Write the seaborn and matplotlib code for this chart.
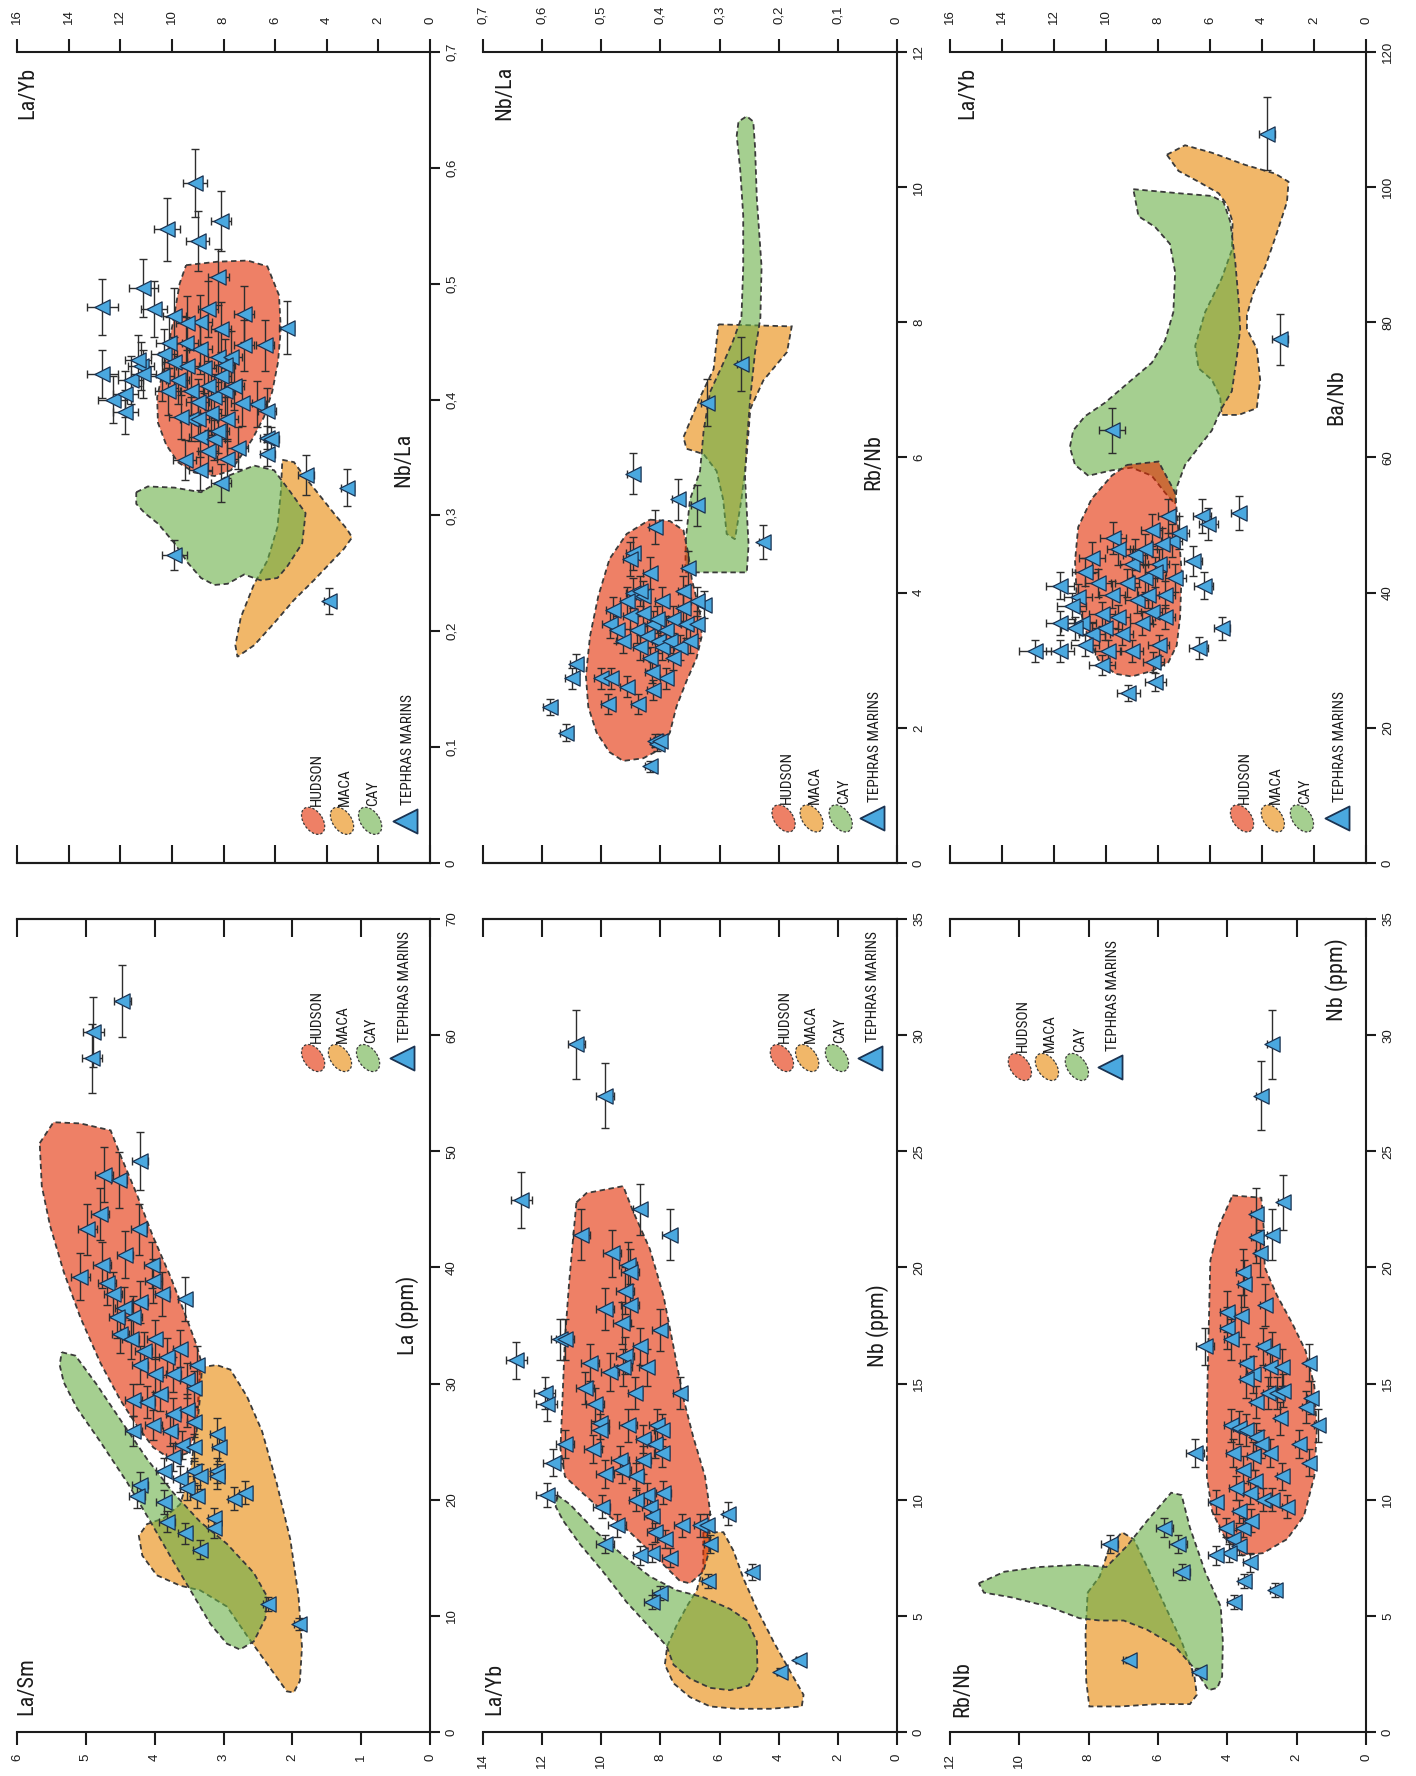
import numpy as np
import matplotlib
matplotlib.use("Agg")
import matplotlib.pyplot as plt
import seaborn as sns
from matplotlib import font_manager
from matplotlib.patches import Polygon
from matplotlib.path import Path

# ---------------------------------------------------------------------------
# Panel A : La/Yb versus Nb/La
# ---------------------------------------------------------------------------
layb_a = [9.1, 8.1, 10.2, 9.0, 8.2, 12.7, 11.1, 10.7, 12.7, 12.3,
          11.8, 11.8, 11.6, 11.2, 11.3, 11.1, 9.9, 8.9, 7.2, 7.2,
          6.4, 5.55, 6.7, 6.3, 6.3, 6.15, 6.3, 4.8, 3.2, 3.9,
          9.9, 8.1, 8.9, 9.5, 7.45, 7.85, 8.6, 7.3, 10.3, 10.1,
          9.9, 10.4, 10.15, 9.77, 9.45, 9.4, 9.25, 9.0, 8.9, 8.75,
          8.6, 8.5, 8.35, 8.2, 8.1, 7.95, 7.85, 7.7, 7.6, 9.25,
          8.9, 8.35, 8.6, 9.4, 9.65, 8.1, 9.0, 8.2, 7.95]
nbla_a = [0.587, 0.554, 0.547, 0.537, 0.506, 0.480, 0.496, 0.478, 0.422, 0.400,
          0.405, 0.389, 0.417, 0.429, 0.434, 0.422, 0.472, 0.467, 0.474, 0.447,
          0.447, 0.462, 0.396, 0.390, 0.367, 0.366, 0.353, 0.335, 0.324, 0.226,
          0.266, 0.328, 0.339, 0.348, 0.358, 0.349, 0.356, 0.397, 0.439, 0.449,
          0.432, 0.420, 0.407, 0.417, 0.449, 0.429, 0.407, 0.398, 0.444, 0.427,
          0.412, 0.388, 0.402, 0.437, 0.420, 0.407, 0.383, 0.437, 0.412, 0.383,
          0.368, 0.366, 0.478, 0.466, 0.385, 0.461, 0.383, 0.373, 0.430]
layb_a_err = [0.45, 0.40, 0.50, 0.45, 0.40, 0.60, 0.55, 0.50, 0.60, 0.55,
              0.50, 0.50, 0.50, 0.50, 0.50, 0.50, 0.45, 0.45, 0.40, 0.40,
              0.35, 0.30, 0.35, 0.35, 0.30, 0.30, 0.30, 0.30, 0.25, 0.20,
              0.50, 0.40, 0.45, 0.45, 0.40, 0.40, 0.40, 0.40, 0.50, 0.50,
              0.50, 0.50, 0.50, 0.45, 0.45, 0.45, 0.45, 0.45, 0.45, 0.45,
              0.40, 0.40, 0.40, 0.40, 0.40, 0.40, 0.40, 0.40, 0.40, 0.45,
              0.45, 0.40, 0.40, 0.45, 0.45, 0.40, 0.45, 0.40, 0.40]
nbla_a_err = [0.029, 0.026, 0.027, 0.026, 0.024, 0.024, 0.025, 0.024, 0.021, 0.020,
              0.020, 0.019, 0.021, 0.021, 0.022, 0.021, 0.024, 0.023, 0.024, 0.022,
              0.022, 0.023, 0.020, 0.020, 0.010, 0.010, 0.010, 0.017, 0.016, 0.011,
              0.013, 0.016, 0.017, 0.017, 0.018, 0.017, 0.018, 0.020, 0.022, 0.022,
              0.022, 0.021, 0.020, 0.021, 0.022, 0.021, 0.020, 0.020, 0.022, 0.021,
              0.021, 0.019, 0.020, 0.022, 0.021, 0.020, 0.019, 0.022, 0.021, 0.019,
              0.018, 0.018, 0.024, 0.023, 0.019, 0.023, 0.019, 0.019, 0.022]
# field outlines as (La/Yb, Nb/La)
a_hudson = [(9.45, 0.516), (8.23, 0.519), (7.07, 0.520), (6.30, 0.515), (5.85, 0.490),
            (5.78, 0.461), (5.89, 0.432), (6.11, 0.407), (6.43, 0.385), (6.88, 0.366),
            (7.33, 0.351), (7.71, 0.339), (8.35, 0.334), (9.13, 0.337), (9.77, 0.346),
            (10.22, 0.361), (10.54, 0.380), (10.57, 0.402), (10.28, 0.432), (9.96, 0.466),
            (9.70, 0.500)]
a_maca = [(5.72, 0.348), (5.27, 0.346), (4.88, 0.334), (4.37, 0.320), (3.73, 0.302),
          (3.21, 0.288), (3.02, 0.281), (3.34, 0.271), (3.86, 0.259), (4.50, 0.244),
          (5.27, 0.227), (6.04, 0.207), (6.81, 0.188), (7.46, 0.178), (7.54, 0.188),
          (7.33, 0.212), (6.81, 0.241), (6.30, 0.261), (5.91, 0.290), (5.78, 0.320)]
a_cay = [(11.38, 0.320), (10.93, 0.325), (9.90, 0.324), (8.87, 0.320), (7.84, 0.334),
         (6.81, 0.343), (6.04, 0.339), (5.40, 0.320), (4.82, 0.302), (4.95, 0.276),
         (5.53, 0.256), (5.91, 0.246), (6.56, 0.244), (7.20, 0.249), (7.84, 0.241),
         (8.35, 0.240), (8.87, 0.246), (9.38, 0.259), (9.90, 0.276), (10.54, 0.293),
         (11.05, 0.302), (11.38, 0.310)]

# ---------------------------------------------------------------------------
# Panel B : Nb/La versus Rb/Nb
# ---------------------------------------------------------------------------
nbla_b = [0.587, 0.559, 0.542, 0.550, 0.418, 0.409, 0.406, 0.401, 0.446, 0.370,
          0.339, 0.409, 0.446, 0.452, 0.353, 0.226, 0.322, 0.263, 0.488, 0.438,
          0.500, 0.483, 0.457, 0.412, 0.390, 0.415, 0.486, 0.474, 0.463, 0.452,
          0.446, 0.440, 0.435, 0.429, 0.429, 0.423, 0.418, 0.412, 0.406, 0.404,
          0.398, 0.390, 0.384, 0.378, 0.367, 0.361, 0.356, 0.350, 0.339, 0.327,
          0.361, 0.418, 0.435, 0.480, 0.457, 0.398, 0.378, 0.339]
rbnb_b = [2.31, 1.93, 2.94, 2.73, 1.43, 1.81, 1.76, 1.81, 5.76, 5.38,
          5.29, 4.97, 4.58, 4.50, 4.37, 4.75, 6.81, 7.39, 2.35, 2.35,
          2.73, 2.73, 2.61, 2.56, 2.73, 2.82, 3.53, 3.45, 3.28, 3.66,
          3.99, 3.45, 3.19, 3.95, 3.70, 3.36, 3.03, 3.53, 3.61, 3.28,
          3.19, 3.45, 3.28, 3.61, 3.19, 3.78, 3.53, 3.28, 3.53, 3.82,
          4.03, 4.29, 4.03, 3.74, 3.87, 3.87, 3.03, 3.87]
nbla_b_err = [0.012, 0.011, 0.011, 0.011, 0.008, 0.009, 0.009, 0.008, 0.010, 0.010,
              0.009, 0.010, 0.012, 0.012, 0.010, 0.008, 0.009, 0.008, 0.012, 0.012,
              0.012, 0.012, 0.012, 0.011, 0.011, 0.011, 0.012, 0.012, 0.012, 0.012,
              0.012, 0.012, 0.011, 0.012, 0.012, 0.011, 0.011, 0.011, 0.011, 0.011,
              0.011, 0.011, 0.010, 0.010, 0.010, 0.010, 0.010, 0.010, 0.010, 0.009,
              0.010, 0.011, 0.012, 0.012, 0.012, 0.011, 0.010, 0.009]
rbnb_b_err = [0.12, 0.12, 0.15, 0.15, 0.08, 0.10, 0.10, 0.10, 0.30, 0.30,
              0.30, 0.25, 0.25, 0.25, 0.25, 0.25, 0.35, 0.40, 0.15, 0.15,
              0.15, 0.15, 0.15, 0.15, 0.15, 0.15, 0.20, 0.20, 0.18, 0.20,
              0.22, 0.20, 0.18, 0.22, 0.20, 0.18, 0.17, 0.20, 0.20, 0.18,
              0.18, 0.20, 0.18, 0.20, 0.18, 0.20, 0.20, 0.18, 0.20, 0.20,
              0.22, 0.24, 0.22, 0.20, 0.21, 0.21, 0.17, 0.21]
# field outlines as (Nb/La, Rb/Nb)
b_hudson = [(0.418, 5.08), (0.384, 5.06), (0.361, 4.92), (0.353, 4.58), (0.347, 4.20),
            (0.333, 3.70), (0.330, 3.36), (0.339, 3.03), (0.356, 2.69), (0.373, 2.31),
            (0.384, 1.93), (0.401, 1.68), (0.429, 1.55), (0.463, 1.51), (0.486, 1.64),
            (0.508, 1.93), (0.522, 2.31), (0.526, 2.77), (0.519, 3.36), (0.505, 3.95),
            (0.486, 4.50), (0.457, 4.87)]
b_maca = [(0.302, 7.97), (0.178, 7.94), (0.186, 7.56), (0.226, 7.14), (0.248, 6.72),
          (0.254, 6.05), (0.263, 5.38), (0.274, 4.79), (0.288, 4.87), (0.294, 5.38),
          (0.305, 5.80), (0.327, 6.05), (0.356, 6.13), (0.361, 6.30), (0.333, 6.89),
          (0.310, 7.31), (0.305, 7.73)]
b_cay = [(0.358, 4.30), (0.254, 4.30), (0.251, 4.71), (0.254, 5.21), (0.257, 5.71),
         (0.254, 6.22), (0.248, 6.89), (0.240, 7.56), (0.231, 8.07), (0.229, 8.82),
         (0.237, 9.83), (0.240, 10.59), (0.243, 10.97), (0.254, 11.05), (0.268, 10.97),
         (0.271, 10.76), (0.265, 10.25), (0.260, 9.58), (0.260, 8.82), (0.263, 8.07),
         (0.277, 7.73), (0.294, 7.39), (0.316, 6.97), (0.327, 6.39), (0.333, 5.80),
         (0.350, 5.38), (0.357, 4.79)]

# ---------------------------------------------------------------------------
# Panel C : La/Yb versus Ba/Nb
# ---------------------------------------------------------------------------
layb_c = [3.81, 3.30, 9.78, 4.90, 6.32, 6.06, 6.64, 6.25, 5.55, 6.44,
          12.73, 11.77, 11.77, 9.14, 8.11, 8.18, 11.77, 11.07, 10.81, 9.72,
          8.24, 7.60, 7.47, 7.86, 7.98, 7.34, 7.73, 8.24, 7.98, 9.01,
          9.91, 10.17, 11.32, 10.94, 10.55, 10.17, 9.78, 9.52, 9.20, 9.01,
          8.82, 8.63, 8.50, 8.37, 9.40, 10.30, 10.55, 8.88, 9.52, 8.50,
          8.11, 10.04, 11.19, 10.81, 7.73, 7.21]
banb_c = [107.9, 77.5, 64.0, 51.8, 51.4, 50.2, 44.7, 41.0, 34.7, 31.8,
          31.4, 31.4, 41.0, 25.1, 26.8, 29.7, 35.5, 39.3, 43.1, 48.1,
          49.3, 51.4, 47.7, 47.2, 44.3, 42.2, 39.7, 37.2, 32.2, 31.4,
          31.4, 29.3, 38.0, 35.5, 33.9, 36.8, 39.7, 36.4, 41.4, 44.3,
          38.9, 35.5, 42.2, 39.7, 33.9, 41.4, 45.2, 45.6, 46.4, 46.4,
          43.1, 34.7, 34.7, 32.2, 36.4, 48.9]
layb_c_err = [0.30, 0.30, 0.50, 0.30, 0.35, 0.35, 0.35, 0.35, 0.30, 0.35,
              0.60, 0.55, 0.55, 0.45, 0.40, 0.40, 0.55, 0.55, 0.50, 0.50,
              0.40, 0.40, 0.40, 0.40, 0.40, 0.40, 0.40, 0.40, 0.40, 0.45,
              0.50, 0.50, 0.55, 0.55, 0.50, 0.50, 0.50, 0.45, 0.45, 0.45,
              0.45, 0.45, 0.45, 0.40, 0.45, 0.50, 0.50, 0.45, 0.45, 0.45,
              0.40, 0.50, 0.55, 0.55, 0.40, 0.40]
banb_c_err = [5.4, 3.8, 3.3, 2.5, 2.5, 2.4, 2.2, 2.0, 1.7, 1.6,
              1.6, 1.6, 2.0, 1.2, 1.3, 1.5, 1.8, 2.0, 2.1, 2.4,
              2.4, 2.5, 2.4, 2.3, 2.2, 2.1, 2.0, 1.9, 1.6, 1.6,
              1.6, 1.5, 1.9, 1.8, 1.7, 1.8, 2.0, 1.8, 2.1, 2.2,
              1.9, 1.8, 2.1, 2.0, 1.7, 2.1, 2.3, 2.3, 2.3, 2.3,
              2.2, 1.7, 1.7, 1.6, 1.8, 2.4]
# field outlines as (La/Yb, Ba/Nb)
c_hudson = [(9.20, 58.9), (7.98, 59.4), (7.34, 54.8), (7.21, 48.9), (7.09, 43.1),
            (7.15, 36.4), (7.28, 32.2), (7.60, 29.7), (8.24, 28.4), (9.01, 27.6),
            (9.65, 28.0), (10.30, 30.1), (10.81, 34.7), (11.13, 39.7), (11.19, 44.7),
            (11.07, 49.7), (10.55, 53.9), (9.78, 57.3)]
c_maca = [(7.66, 104.8), (6.96, 106.2), (5.93, 105.1), (4.65, 103.3), (3.49, 102.0),
          (2.98, 100.8), (3.04, 97.8), (3.43, 93.2), (3.88, 88.2), (4.33, 84.4),
          (4.58, 81.1), (4.58, 79.0), (4.20, 76.1), (4.07, 71.5), (4.20, 67.3),
          (4.90, 66.3), (5.55, 66.3), (5.61, 69.0), (5.93, 71.5), (6.44, 73.2),
          (6.57, 76.5), (6.19, 81.5), (5.55, 86.5), (5.16, 90.7), (5.13, 94.9),
          (5.35, 97.4), (5.67, 99.1), (6.44, 100.8), (7.21, 102.4)]
c_cay = [(8.95, 99.7), (8.37, 99.5), (7.21, 99.1), (5.93, 98.7), (5.48, 97.8),
         (5.22, 94.9), (5.03, 89.0), (4.90, 83.2), (4.84, 79.0), (4.97, 74.8),
         (5.16, 69.8), (5.55, 67.3), (5.93, 64.0), (6.44, 61.5), (6.96, 58.9),
         (7.28, 55.6), (7.34, 53.1), (7.73, 54.8), (8.24, 57.3), (9.01, 58.5),
         (9.78, 58.1), (10.68, 57.3), (11.19, 58.9), (11.39, 61.5), (11.26, 64.0),
         (10.81, 66.1), (10.04, 68.1), (9.01, 71.5), (8.24, 74.0), (7.73, 77.3),
         (7.41, 81.5), (7.34, 87.4), (7.54, 91.6), (8.11, 94.1), (8.75, 95.7)]

# ---------------------------------------------------------------------------
# Panel D : La/Sm versus La (ppm)
# ---------------------------------------------------------------------------
lasm_d = [4.91, 4.89, 4.47, 4.21, 4.74, 4.52, 4.79, 4.98, 4.23, 5.08,
          4.77, 4.43, 4.04, 4.02, 3.89, 3.56, 4.69, 4.60, 4.45, 4.31,
          4.55, 4.21, 4.50, 4.35, 4.16, 4.00, 3.82, 3.63, 3.39, 4.21,
          4.00, 3.73, 3.53, 3.43, 4.31, 4.11, 3.92, 3.73, 3.53, 3.43,
          4.31, 4.02, 3.77, 3.60, 3.43, 3.73, 3.87, 3.63, 3.43, 3.34,
          3.53, 3.39, 3.10, 3.07, 3.10, 3.10, 2.85, 2.69, 4.21, 4.26,
          3.87, 3.82, 3.56, 3.34, 3.14, 3.14, 2.35, 1.91]
la_d = [58.0, 60.3, 62.9, 49.2, 48.0, 47.5, 44.6, 43.3, 43.3, 39.2,
        40.2, 41.1, 40.2, 38.8, 37.7, 37.3, 38.7, 37.7, 36.5, 35.7,
        35.7, 37.0, 34.3, 33.8, 32.8, 33.8, 32.3, 33.0, 31.6, 31.6,
        30.8, 30.8, 30.3, 29.6, 28.6, 28.4, 29.1, 27.4, 27.7, 26.7,
        25.9, 26.4, 25.9, 24.7, 24.5, 23.7, 22.5, 21.8, 22.5, 22.0,
        21.0, 20.3, 25.7, 24.5, 22.5, 22.0, 20.1, 20.6, 21.3, 20.3,
        19.8, 18.1, 17.1, 15.7, 18.4, 17.6, 11.0, 9.3]
lasm_d_err = [0.15, 0.15, 0.12, 0.12, 0.13, 0.12, 0.13, 0.14, 0.12, 0.14,
              0.13, 0.12, 0.12, 0.12, 0.11, 0.10, 0.13, 0.13, 0.12, 0.12,
              0.12, 0.12, 0.12, 0.12, 0.12, 0.11, 0.11, 0.10, 0.10, 0.12,
              0.11, 0.11, 0.10, 0.10, 0.12, 0.12, 0.11, 0.11, 0.10, 0.10,
              0.12, 0.12, 0.11, 0.10, 0.10, 0.11, 0.11, 0.10, 0.10, 0.10,
              0.10, 0.10, 0.09, 0.09, 0.09, 0.09, 0.08, 0.08, 0.12, 0.12,
              0.11, 0.11, 0.10, 0.10, 0.09, 0.09, 0.07, 0.06]
la_d_err = [3.0, 3.0, 3.1, 2.5, 2.4, 2.4, 2.2, 2.2, 2.2, 2.0,
            2.0, 2.0, 2.0, 1.9, 1.9, 1.9, 1.9, 1.9, 1.8, 1.8,
            1.8, 1.8, 1.7, 1.7, 1.6, 1.7, 1.6, 1.6, 1.6, 1.6,
            1.5, 1.5, 1.5, 1.5, 1.4, 1.4, 1.5, 1.4, 1.4, 1.3,
            1.3, 1.3, 1.3, 1.2, 1.2, 1.2, 1.1, 1.1, 1.1, 1.1,
            1.0, 1.0, 1.3, 1.2, 1.1, 1.1, 1.0, 1.0, 1.1, 1.0,
            1.0, 0.9, 0.9, 0.8, 0.9, 0.9, 0.6, 0.5]
# field outlines as (La/Sm, La)
d_hudson = [(5.67, 50.7), (5.47, 52.5), (5.08, 52.4), (4.64, 51.8), (4.50, 49.7),
            (4.26, 46.3), (4.02, 42.6), (3.77, 39.2), (3.56, 36.0), (3.39, 33.3),
            (3.31, 31.6), (3.34, 28.9), (3.39, 25.9), (3.53, 24.0), (3.77, 23.5),
            (4.02, 24.5), (4.26, 26.4), (4.50, 28.6), (4.79, 31.8), (5.08, 35.7),
            (5.32, 39.6), (5.52, 43.6), (5.64, 47.0)]
d_maca = [(3.34, 31.4), (3.10, 31.6), (2.90, 31.2), (2.66, 28.9), (2.44, 25.9),
          (2.23, 21.5), (2.03, 16.6), (1.91, 11.7), (1.86, 7.3), (1.89, 4.4),
          (1.98, 3.4), (2.08, 3.5), (2.37, 5.9), (2.66, 8.3), (2.95, 10.8),
          (3.34, 12.2), (3.63, 12.6), (3.97, 13.5), (4.18, 15.2), (4.23, 16.9),
          (4.11, 17.9), (3.87, 18.4), (3.63, 19.6), (3.48, 22.5), (3.39, 26.4)]
d_cay = [(5.35, 32.7), (5.15, 32.4), (4.84, 29.9), (4.50, 26.9), (4.11, 23.5),
         (3.73, 20.6), (3.34, 18.1), (2.95, 16.2), (2.56, 13.7), (2.37, 11.7),
         (2.39, 9.8), (2.56, 7.8), (2.76, 7.1), (2.95, 7.6), (3.19, 9.3),
         (3.43, 11.7), (3.73, 14.7), (4.06, 18.1), (4.40, 21.5), (4.79, 25.0),
         (5.13, 27.9), (5.32, 30.1), (5.38, 31.6)]

# ---------------------------------------------------------------------------
# Panel E : La/Yb versus Nb (ppm)
# ---------------------------------------------------------------------------
layb_e = [10.84, 9.88, 12.70, 10.67, 8.69, 7.68, 9.65, 9.09, 9.03, 9.88,
          9.20, 9.03, 9.31, 11.40, 11.23, 12.87, 8.02, 10.39, 9.71, 9.20,
          9.26, 8.69, 8.47, 8.86, 7.34, 11.91, 11.85, 10.56, 10.22, 10.05,
          10.05, 10.27, 11.23, 11.63, 9.09, 8.13, 7.96, 8.58, 8.19, 7.96,
          8.58, 9.37, 9.88, 9.31, 8.81, 7.90, 8.47, 8.81, 11.85, 9.99,
          9.48, 8.36, 8.30, 8.19, 7.85, 8.30, 7.68, 8.69, 7.28, 6.66,
          6.44, 6.32, 5.70, 9.88, 8.02, 8.30, 6.38, 4.91, 3.95, 3.33]
nb_e = [29.6, 27.4, 22.9, 21.4, 22.5, 21.4, 20.6, 20.1, 19.8, 18.2,
        19.0, 18.4, 17.6, 16.9, 16.9, 16.0, 17.3, 15.9, 15.5, 16.2,
        15.7, 16.6, 15.7, 14.6, 14.6, 14.6, 14.1, 14.8, 14.1, 13.3,
        13.0, 12.2, 12.4, 11.6, 13.2, 13.2, 13.0, 12.6, 12.4, 12.0,
        11.7, 11.7, 11.1, 11.3, 11.0, 10.3, 10.2, 10.0, 10.2, 9.7,
        8.9, 9.7, 9.3, 8.6, 8.3, 7.7, 7.5, 7.6, 8.9, 8.9,
        8.9, 8.1, 9.4, 8.1, 6.0, 5.6, 6.5, 6.9, 2.6, 3.1]
layb_e_err = [0.30, 0.30, 0.35, 0.30, 0.25, 0.25, 0.30, 0.30, 0.30, 0.30,
              0.30, 0.30, 0.30, 0.30, 0.30, 0.35, 0.25, 0.30, 0.30, 0.30,
              0.30, 0.25, 0.25, 0.25, 0.25, 0.35, 0.35, 0.30, 0.30, 0.30,
              0.30, 0.30, 0.30, 0.35, 0.30, 0.25, 0.25, 0.25, 0.25, 0.25,
              0.25, 0.30, 0.30, 0.30, 0.25, 0.25, 0.25, 0.25, 0.35, 0.30,
              0.30, 0.25, 0.25, 0.25, 0.25, 0.25, 0.25, 0.25, 0.25, 0.20,
              0.20, 0.20, 0.20, 0.30, 0.25, 0.25, 0.20, 0.15, 0.12, 0.10]
nb_e_err = [1.5, 1.4, 1.2, 1.1, 1.1, 1.1, 1.0, 1.0, 1.0, 0.9,
            1.0, 0.9, 0.9, 0.9, 0.9, 0.8, 0.9, 0.8, 0.8, 0.8,
            0.8, 0.8, 0.8, 0.7, 0.7, 0.7, 0.7, 0.7, 0.7, 0.7,
            0.7, 0.6, 0.6, 0.6, 0.7, 0.7, 0.7, 0.6, 0.6, 0.6,
            0.6, 0.6, 0.6, 0.6, 0.6, 0.5, 0.5, 0.5, 0.5, 0.5,
            0.5, 0.5, 0.5, 0.4, 0.4, 0.4, 0.4, 0.4, 0.5, 0.5,
            0.5, 0.4, 0.5, 0.4, 0.3, 0.3, 0.3, 0.35, 0.15, 0.15]
# field outlines as (La/Yb, Nb)
e_hudson = [(10.84, 22.8), (10.50, 23.2), (9.26, 23.5), (8.92, 22.4), (8.36, 20.8),
            (7.90, 18.8), (7.56, 16.6), (7.23, 14.4), (6.89, 12.7), (6.49, 11.0),
            (6.32, 9.5), (6.35, 7.8), (6.55, 6.9), (7.00, 6.4), (7.34, 6.5),
            (8.13, 7.5), (9.03, 8.6), (9.94, 9.5), (10.73, 10.4), (11.23, 11.0),
            (11.38, 12.2), (11.31, 14.4), (11.23, 16.9), (11.09, 19.3), (10.95, 21.3)]
e_maca = [(6.55, 8.6), (5.87, 8.6), (5.53, 7.8), (5.19, 6.6), (4.74, 5.3),
          (4.18, 3.9), (3.61, 2.6), (3.16, 1.6), (3.22, 1.1), (4.29, 1.0),
          (5.42, 1.0), (6.32, 1.1), (7.00, 1.5), (7.56, 2.1), (7.85, 2.9),
          (7.77, 3.7), (7.45, 4.6), (7.11, 5.4), (6.77, 6.1), (6.55, 7.1)]
e_cay = [(11.49, 10.2), (11.06, 9.8), (10.16, 8.6), (9.26, 7.6), (8.36, 6.7),
         (7.45, 6.1), (6.55, 5.8), (5.65, 5.3), (5.08, 4.8), (4.74, 3.9),
         (4.72, 2.7), (5.02, 2.0), (5.65, 1.8), (6.32, 1.9), (7.00, 2.3),
         (7.56, 2.9), (7.79, 3.7), (8.36, 4.5), (9.15, 5.6), (9.94, 6.9),
         (10.73, 8.1), (11.29, 9.1), (11.54, 9.7)]

# ---------------------------------------------------------------------------
# Panel F : Rb/Nb versus Nb (ppm)
# ---------------------------------------------------------------------------
rbnb_f = [3.02, 2.72, 2.38, 2.72, 3.16, 3.16, 3.06, 3.56, 3.51, 2.92,
          4.00, 4.00, 3.90, 3.61, 4.64, 2.97, 2.72, 2.77, 2.43, 1.64,
          3.46, 3.26, 3.46, 3.16, 2.82, 2.57, 2.38, 1.74, 1.59, 1.39,
          2.48, 3.90, 3.65, 3.46, 3.16, 3.02, 3.85, 4.93, 3.26, 2.77,
          1.94, 1.64, 3.56, 3.21, 2.43, 3.75, 3.36, 2.97, 2.72, 2.28,
          4.34, 3.65, 3.56, 3.31, 4.05, 3.85, 3.65, 3.95, 3.36, 4.34,
          3.51, 2.62, 3.80, 7.39, 5.82, 5.42, 5.32, 6.85, 4.83]
nb_f = [27.4, 29.6, 22.8, 21.4, 22.3, 21.3, 20.6, 19.8, 19.3, 18.4,
        18.1, 17.4, 16.9, 17.9, 16.6, 16.6, 16.4, 15.7, 15.7, 15.9,
        15.9, 15.4, 15.2, 14.2, 14.6, 14.6, 14.7, 14.0, 14.4, 13.2,
        13.5, 13.2, 13.1, 13.0, 12.7, 12.4, 12.0, 12.0, 11.9, 12.0,
        12.4, 11.6, 11.3, 10.8, 11.0, 10.5, 10.3, 10.0, 10.0, 9.7,
        9.9, 9.5, 8.8, 9.1, 8.8, 8.3, 8.0, 7.7, 7.3, 7.6,
        6.5, 6.1, 5.6, 8.1, 8.8, 8.1, 6.9, 3.1, 2.6]
rbnb_f_err = [0.15, 0.15, 0.15, 0.15, 0.15, 0.15, 0.15, 0.18, 0.18, 0.15,
              0.20, 0.20, 0.20, 0.18, 0.25, 0.15, 0.15, 0.15, 0.15, 0.10,
              0.18, 0.18, 0.18, 0.15, 0.15, 0.15, 0.15, 0.10, 0.10, 0.10,
              0.15, 0.20, 0.18, 0.18, 0.15, 0.15, 0.20, 0.25, 0.18, 0.15,
              0.12, 0.10, 0.18, 0.18, 0.15, 0.20, 0.18, 0.15, 0.15, 0.15,
              0.22, 0.18, 0.18, 0.18, 0.20, 0.20, 0.18, 0.20, 0.18, 0.22,
              0.18, 0.15, 0.20, 0.25, 0.25, 0.25, 0.25, 0.15, 0.20]
nb_f_err = [1.5, 1.5, 1.2, 1.1, 1.1, 1.1, 1.0, 1.0, 1.0, 0.9,
            0.9, 0.9, 0.9, 0.9, 0.8, 0.8, 0.8, 0.8, 0.8, 0.8,
            0.8, 0.8, 0.8, 0.7, 0.7, 0.7, 0.7, 0.7, 0.7, 0.7,
            0.7, 0.7, 0.7, 0.7, 0.6, 0.6, 0.6, 0.6, 0.6, 0.6,
            0.6, 0.6, 0.6, 0.5, 0.6, 0.5, 0.5, 0.5, 0.5, 0.5,
            0.5, 0.5, 0.4, 0.5, 0.4, 0.4, 0.4, 0.4, 0.4, 0.4,
            0.3, 0.3, 0.3, 0.4, 0.4, 0.4, 0.35, 0.15, 0.15]
# field outlines as (Rb/Nb, Nb)
f_hudson = [(3.85, 23.1), (3.02, 23.0), (2.95, 21.7), (2.92, 20.0), (2.57, 18.8),
            (2.13, 17.6), (1.74, 16.4), (1.49, 14.9), (1.42, 13.0), (1.49, 11.0),
            (1.79, 9.3), (2.28, 8.3), (2.97, 7.7), (3.56, 7.6), (4.05, 8.3),
            (4.44, 9.5), (4.59, 11.0), (4.59, 13.5), (4.56, 15.9), (4.52, 18.4),
            (4.49, 20.3), (4.24, 21.8)]
f_maca = [(8.03, 6.0), (7.68, 6.7), (7.39, 8.0), (7.04, 8.6), (6.70, 8.3),
          (6.31, 7.1), (5.82, 5.5), (5.32, 3.9), (4.95, 2.4), (4.88, 1.6),
          (5.08, 1.2), (6.01, 1.2), (7.09, 1.1), (7.98, 1.1), (8.07, 2.2),
          (8.09, 4.2)]
f_cay = [(11.17, 6.4), (10.43, 6.9), (9.45, 7.1), (8.27, 7.2), (7.49, 7.1),
         (6.90, 8.0), (6.31, 9.1), (5.62, 10.3), (5.32, 10.2), (5.08, 8.8),
         (4.64, 6.9), (4.19, 5.4), (4.13, 3.9), (4.15, 2.4), (4.29, 1.9),
         (4.54, 1.8), (4.93, 2.7), (5.52, 3.7), (6.31, 4.4), (6.99, 4.8),
         (7.68, 4.8), (8.27, 4.9), (9.16, 5.4), (10.24, 5.8), (11.02, 6.0)]

# tick values and their printed labels
ticks_layb16 = [0, 2, 4, 6, 8, 10, 12, 14, 16]
ticks_layb14 = [0, 2, 4, 6, 8, 10, 12, 14]
ticks_ratio07 = [0, 0.1, 0.2, 0.3, 0.4, 0.5, 0.6, 0.7]
labels_ratio07 = ["0", "0,1", "0,2", "0,3", "0,4", "0,5", "0,6", "0,7"]
ticks_rbnb = [0, 2, 4, 6, 8, 10, 12]
ticks_banb = [0, 20, 40, 60, 80, 100, 120]
ticks_lasm = [0, 1, 2, 3, 4, 5, 6]
ticks_la = [0, 10, 20, 30, 40, 50, 60, 70]
ticks_nb = [0, 5, 10, 15, 20, 25, 30, 35]

# ---------------------------------------------------------------------------
# styling
# ---------------------------------------------------------------------------
sns.set_theme(style="white")
plt.rcParams["font.family"] = ["Liberation Sans", "DejaVu Sans"]

# pick a condensed face for the axis names and key text
_fonts = font_manager.fontManager.ttflist
_names = {f.name for f in _fonts}
NARROW = {"family": ["Liberation Sans", "DejaVu Sans"], "stretch": "normal", "shrink": 0.9}
for cand in ("Liberation Sans Narrow", "Roboto Condensed", "Open Sans Condensed"):
    if cand in _names:
        NARROW = {"family": [cand, "DejaVu Sans"], "stretch": "normal", "shrink": 1.0}
        break
else:
    if any(f.name == "DejaVu Sans" and f.stretch in ("condensed", 300) for f in _fonts):
        NARROW = {"family": ["DejaVu Sans"], "stretch": "condensed", "shrink": 0.95}
    elif any(f.name == "Roboto" and f.stretch in ("condensed", 300) for f in _fonts):
        NARROW = {"family": ["Roboto"], "stretch": "condensed", "shrink": 1.0}


def narrow_kw(size):
    return dict(family=NARROW["family"], fontstretch=NARROW["stretch"],
                fontsize=size * NARROW["shrink"])


W, H = 1416, 1776
fig = plt.figure(figsize=(W / 100, H / 100), dpi=100)
fig.patch.set_facecolor("white")

COLS = [(17, 430), (483, 897), (950, 1366)]
ROWS = {"top": (52, 863), "bottom": (919, 1732)}

FIELD_FACE = {
    "HUDSON": (0.89, 0.17, 0.0, 0.6),
    "MACA": (0.91, 0.53, 0.02, 0.6),
    "CAY": (0.41, 0.69, 0.28, 0.6),
}
EDGE = "#3a3a3a"
INK = "#1c1c1c"
TRI_FACE = "#4aa8df"
TRI_EDGE = "#1b3352"

# tilted blob used as the key swatch of a field
_t = np.linspace(0, 2 * np.pi, 48)
_a = np.deg2rad(35)
_ex, _ey = 0.62 * np.cos(_t), np.sin(_t)
BLOB = Path(np.column_stack([_ex * np.cos(_a) - _ey * np.sin(_a),
                             _ex * np.sin(_a) + _ey * np.cos(_a)]))


def draw_key(ax, xs, y):
    for name, x in zip(("HUDSON", "MACA", "CAY"), xs[:3]):
        ax.scatter([x], [y], transform=ax.transAxes, marker=BLOB, s=380,
                   facecolors=[FIELD_FACE[name]], edgecolors=EDGE, linewidths=0.9,
                   linestyles=(0, (2, 1.5)), zorder=6, clip_on=False)
        ax.text(x + 0.008, y + 0.018, name, transform=ax.transAxes, rotation=90,
                ha="center", va="bottom", color=INK, **narrow_kw(11))
    ax.scatter([xs[3]], [y], transform=ax.transAxes, marker="<", s=300,
               facecolors=TRI_FACE, edgecolors=TRI_EDGE, linewidths=1.3, zorder=6,
               clip_on=False)
    ax.text(xs[3] + 0.008, y + 0.02, "TEPHRAS MARINS", transform=ax.transAxes,
            rotation=90, ha="center", va="bottom", color=INK, **narrow_kw(11))


def panel(col, row, h, v, h_err, v_err, fields, h_ticks, h_labels, v_ticks, v_labels,
          h_name, v_name, h_name_xy, v_name_xy, key_xs, key_y):
    x0, x1 = COLS[col]
    y0, y1 = ROWS[row]
    ax = fig.add_axes([x0 / W, 1 - y1 / H, (x1 - x0) / W, (y1 - y0) / H])
    ax.set_facecolor("white")

    for name in ("MACA", "CAY", "HUDSON"):
        ax.add_patch(Polygon(fields[name], closed=True, facecolor=FIELD_FACE[name],
                             edgecolor=EDGE, linewidth=1.3, linestyle=(0, (3, 2)),
                             zorder=2))

    ax.errorbar(h, v, xerr=h_err, yerr=v_err, fmt="none", ecolor="#2e2e2e",
                elinewidth=1.0, capsize=2.6, capthick=1.0, zorder=3)
    sns.scatterplot(x=h, y=v, ax=ax, marker="<", s=120, color=TRI_FACE,
                    edgecolor=TRI_EDGE, linewidth=0.9, zorder=4, legend=False)

    ax.set_xlim(h_ticks[-1], 0)
    ax.set_ylim(0, v_ticks[-1])
    ax.set_xlabel("")
    ax.set_ylabel("")

    ax.spines["left"].set_visible(False)
    for s in ("top", "bottom", "right"):
        ax.spines[s].set_visible(True)
        ax.spines[s].set_color(INK)
        ax.spines[s].set_linewidth(1.5)

    ax.set_xticks(h_ticks, labels=h_labels, rotation=90)
    ax.set_yticks(v_ticks, labels=v_labels, rotation=90, va="center")
    ax.tick_params(axis="y", left=False, right=True, labelleft=False, labelright=True,
                   direction="out", length=7.5, width=1.5, pad=4, labelsize=9.5,
                   color=INK, labelcolor=INK)

    on_top = row == "top"
    ax.tick_params(axis="x", top=on_top, bottom=not on_top, labeltop=on_top,
                   labelbottom=not on_top, direction="out", length=9.5, width=1.5,
                   pad=11 if on_top else 6, labelsize=9.5, color=INK, labelcolor=INK)
    sec = ax.secondary_xaxis("bottom" if on_top else "top")
    sec.set_xticks(h_ticks, labels=[""] * len(h_ticks))
    sec.tick_params(axis="x", top=not on_top, bottom=on_top, labeltop=False,
                    labelbottom=False, direction="in", length=13, width=1.5, color=INK)
    for s in sec.spines.values():
        s.set_linewidth(1.5)
        s.set_color(INK)

    ax.text(*h_name_xy, h_name, transform=ax.transAxes, rotation=90, ha="center",
            va="center", color=INK, **narrow_kw(16))
    ax.text(*v_name_xy, v_name, transform=ax.transAxes, rotation=90, ha="center",
            va="center", color=INK, **narrow_kw(16))
    draw_key(ax, key_xs, key_y)
    return ax


str_ticks = lambda vals: [str(v) for v in vals]

panel(0, "top", layb_a, nbla_a, layb_a_err, nbla_a_err,
      {"HUDSON": a_hudson, "MACA": a_maca, "CAY": a_cay},
      ticks_layb16, str_ticks(ticks_layb16), ticks_ratio07, labels_ratio07,
      "La/Yb", "Nb/La", (0.027, 0.950), (0.937, 0.497),
      [0.717, 0.787, 0.855, 0.939], 0.052)

panel(1, "top", nbla_b, rbnb_b, nbla_b_err, rbnb_b_err,
      {"HUDSON": b_hudson, "MACA": b_maca, "CAY": b_cay},
      ticks_ratio07, labels_ratio07, ticks_rbnb, str_ticks(ticks_rbnb),
      "Nb/La", "Rb/Nb", (0.053, 0.950), (0.944, 0.494),
      [0.726, 0.794, 0.864, 0.939], 0.055)

panel(2, "top", layb_c, banb_c, layb_c_err, banb_c_err,
      {"HUDSON": c_hudson, "MACA": c_maca, "CAY": c_cay},
      ticks_layb16, str_ticks(ticks_layb16), ticks_banb, str_ticks(ticks_banb),
      "La/Yb", "Ba/Nb", (0.043, 0.950), (0.93, 0.575),
      [0.702, 0.776, 0.846, 0.93], 0.055)

panel(0, "bottom", lasm_d, la_d, lasm_d_err, la_d_err,
      {"HUDSON": d_hudson, "MACA": d_maca, "CAY": d_cay},
      ticks_lasm, str_ticks(ticks_lasm), ticks_la, str_ticks(ticks_la),
      "La/Sm", "La (ppm)", (0.024, 0.056), (0.946, 0.512),
      [0.717, 0.782, 0.850, 0.932], 0.829)

panel(1, "bottom", layb_e, nb_e, layb_e_err, nb_e_err,
      {"HUDSON": e_hudson, "MACA": e_maca, "CAY": e_cay},
      ticks_layb14, str_ticks(ticks_layb14), ticks_nb, str_ticks(ticks_nb),
      "La/Yb", "Nb (ppm)", (0.029, 0.053), (0.954, 0.50),
      [0.722, 0.783, 0.855, 0.935], 0.829)

panel(2, "bottom", rbnb_f, nb_f, rbnb_f_err, nb_f_err,
      {"HUDSON": f_hudson, "MACA": f_maca, "CAY": f_cay},
      ticks_rbnb, str_ticks(ticks_rbnb), ticks_nb, str_ticks(ticks_nb),
      "Rb/Nb", "Nb (ppm)", (0.030, 0.053), (0.93, 0.925),
      [0.168, 0.233, 0.305, 0.385], 0.818)

fig.savefig("out.png", dpi=100, facecolor="white")
